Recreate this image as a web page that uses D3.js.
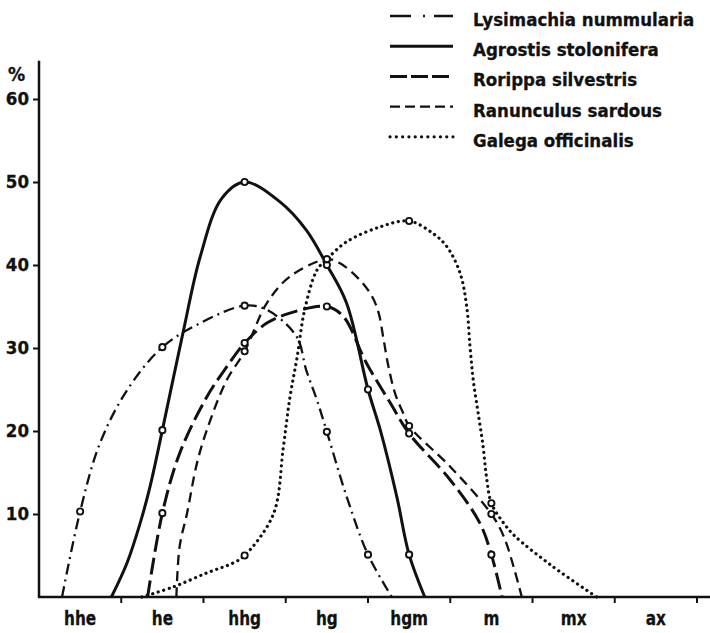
<!DOCTYPE html>
<html>
<head>
<meta charset="utf-8">
<script src="https://cdn.jsdelivr.net/npm/d3@7/dist/d3.min.js"></script>
<style>
  html, body { margin: 0; padding: 0; background: #fff; }
  svg { display: block; }
  .lbl { font-family: "DejaVu Sans Condensed", "DejaVu Sans", sans-serif; font-weight: bold; fill: #111; stroke: #111; stroke-width: 0.3px; }
</style>
</head>
<body>
<svg id="chart" width="710" height="633"></svg>
<script>
// Habitat categories along the x axis
const categories = ["hhe", "he", "hhg", "hg", "hgm", "m", "mx", "ax"];
const yTickValues = [10, 20, 30, 40, 50, 60];

// Each series: [position (category index), percent, 1 = surveyed point with marker]
const lysimachia = [
  [-0.22, 0, 0], [0, 10.3, 1], [0.24, 18.5, 0], [0.57, 24.9, 0], [1, 30.1, 1],
  [1.46, 33, 0], [2, 35.1, 1], [2.27, 34.6, 0], [2.63, 31.4, 0], [2.75, 27.3, 0],
  [2.88, 23.7, 0], [3, 19.9, 1], [3.24, 12.1, 0], [3.5, 5.1, 1], [3.79, 0, 0]
];
const agrostis = [
  [0.38, 0, 0], [0.57, 4.1, 0], [0.73, 8.9, 0], [0.85, 13.3, 0], [1, 20.1, 1],
  [1.25, 31.8, 0], [1.46, 41, 0], [1.72, 48, 0], [2, 50, 1],
  [2.43, 47.6, 0], [2.75, 44.2, 0], [3, 40, 1], [3.24, 35.4, 0], [3.5, 25, 1],
  [3.65, 20.1, 0], [3.85, 12.1, 0], [4, 5.1, 1], [4.19, 0, 0]
];
const rorippa = [
  [0.82, 0, 0], [1, 10.1, 1], [1.21, 17.3, 0], [1.54, 24.1, 0], [1.78, 27.7, 0],
  [2, 30.6, 1], [2.27, 33, 0], [2.55, 34.2, 0], [3, 35, 1], [3.2, 33.8, 0],
  [3.48, 28.2, 0], [3.77, 23.4, 0], [4, 19.7, 1], [4.5, 14.1, 0], [4.86, 8.9, 0],
  [5, 5.1, 1], [5.13, 0, 0]
];
const ranunculus = [
  [1.17, 0, 0], [1.21, 6.1, 0], [1.30, 10.1, 0], [1.42, 16.1, 0], [1.54, 20.1, 0],
  [1.78, 26.1, 0], [2, 29.6, 1], [2.27, 35.4, 0], [2.55, 38.6, 0], [3, 40.7, 1],
  [3.16, 40.2, 0], [3.4, 38.2, 0], [3.55, 36.2, 0], [3.63, 34.2, 0], [3.69, 31, 0],
  [3.75, 27.7, 0], [3.83, 24.5, 0], [3.93, 22.1, 0], [4, 20.6, 1], [4.5, 15.7, 0],
  [5, 10, 1], [5.15, 7.3, 0], [5.27, 3.65, 0], [5.37, 0, 0]
];
const galega = [
  [0.75, 0, 0], [1.13, 1.2, 0], [1.54, 2.9, 0], [1.86, 4.1, 0], [2, 5, 1],
  [2.35, 10, 0], [2.47, 18, 0], [2.55, 24, 0], [2.64, 29, 0], [2.73, 34.6, 0],
  [2.88, 39.4, 0], [3, 40.7, 1], [3.24, 42.8, 0], [3.65, 44.6, 0], [4, 45.3, 1],
  [4.29, 43.8, 0], [4.46, 42.2, 0], [4.62, 39, 0], [4.70, 35, 0], [4.74, 30.2, 0],
  [4.78, 26.1, 0], [4.84, 22.1, 0], [4.90, 18.1, 0], [4.94, 14.5, 0], [5, 11.3, 1],
  [5.15, 8.9, 0], [5.29, 7.3, 0], [5.75, 3.65, 0], [6.28, 0, 0]
];

const speciesNames = ["Lysimachia nummularia", "Agrostis stolonifera", "Rorippa silvestris",
                      "Ranunculus sardous", "Galega officinalis"];
const seriesData = [lysimachia, agrostis, rorippa, ranunculus, galega];

// Stroke styling per species (curve, legend sample)
const styles = [
  { width: 2.3, dash: "11 5 2 5", cap: "butt", legendDash: "21 12 2 9" },
  { width: 3.0, dash: null, cap: "butt", legendDash: null },
  { width: 3.0, dash: "17 6", cap: "butt", legendDash: "17 4" },
  { width: 2.3, dash: "10 6", cap: "butt", legendDash: "10 5" },
  { width: 3.2, dash: "0.1 5.6", cap: "round", legendDash: "0.1 6.2" }
];

const svg = d3.select("#chart");
const x0 = 39, x1 = 697, yBase = 597;

const x = d3.scaleLinear().domain([-0.5, categories.length - 0.5]).range([x0, x1]);
const y = d3.scaleLinear().domain([0, 60]).range([yBase, 99]);

// Axes
const ink = "#111";
svg.append("line").attr("x1", x0).attr("x2", x0).attr("y1", y(64.6)).attr("y2", yBase + 1)
  .attr("stroke", ink).attr("stroke-width", 2.5);
svg.append("line").attr("x1", x0 - 1).attr("x2", 710).attr("y1", yBase).attr("y2", yBase)
  .attr("stroke", ink).attr("stroke-width", 2.5);

const yAxis = d3.axisLeft(y).tickValues(yTickValues).tickSize(6).tickPadding(4);
const gy = svg.append("g").attr("transform", `translate(${x0},0)`).call(yAxis);
gy.select(".domain").remove();
gy.selectAll(".tick line").attr("stroke", ink).attr("stroke-width", 2);
gy.selectAll(".tick text").attr("class", "lbl").style("font-size", "18.5px")
  .style("font-family", null).attr("fill", null);

// x ticks at category boundaries, labels centred in each category
const boundaries = d3.range(0, categories.length).map(i => i + 0.5);
svg.append("g").selectAll("line").data(boundaries).join("line")
  .attr("x1", d => x(d)).attr("x2", d => x(d)).attr("y1", yBase).attr("y2", yBase + 6)
  .attr("stroke", ink).attr("stroke-width", 2);
svg.append("g").selectAll("text").data(categories).join("text")
  .attr("class", "lbl")
  .attr("transform", (d, i) => `translate(${x(i)},625) scale(0.85,1)`)
  .attr("text-anchor", "middle").style("font-size", "20px")
  .text(d => d);

svg.append("text").attr("class", "lbl").attr("x", 8).attr("y", 81)
  .style("font-size", "19px").text("%");

// Curves
const line = d3.line().x(d => x(d[0])).y(d => y(d[1])).curve(d3.curveCatmullRom.alpha(0.5));
seriesData.forEach((s, k) => {
  const st = styles[k];
  svg.append("path").datum(s).attr("d", line).attr("fill", "none")
    .attr("stroke", ink).attr("stroke-width", st.width)
    .attr("stroke-linecap", st.cap).attr("stroke-linejoin", "round")
    .attr("stroke-dasharray", st.dash);
});
// Markers at surveyed points
seriesData.forEach(s => {
  svg.append("g").selectAll("circle").data(s.filter(d => d[2])).join("circle")
    .attr("cx", d => x(d[0])).attr("cy", d => y(d[1])).attr("r", 3.1)
    .attr("fill", "#fff").attr("stroke", ink).attr("stroke-width", 1.9);
});

// Legend
const legend = svg.append("g");
speciesNames.forEach((name, k) => {
  const st = styles[k];
  const yy = 16 + k * 30.2;
  legend.append("line").attr("x1", 390).attr("x2", 453).attr("y1", yy).attr("y2", yy)
    .attr("stroke", ink).attr("stroke-width", st.width)
    .attr("stroke-linecap", st.cap).attr("stroke-dasharray", st.legendDash);
  legend.append("text").attr("class", "lbl")
    .attr("x", 473).attr("y", yy + 10)
    .style("font-size", "18.5px").text(name);
});
</script>
</body>
</html>
